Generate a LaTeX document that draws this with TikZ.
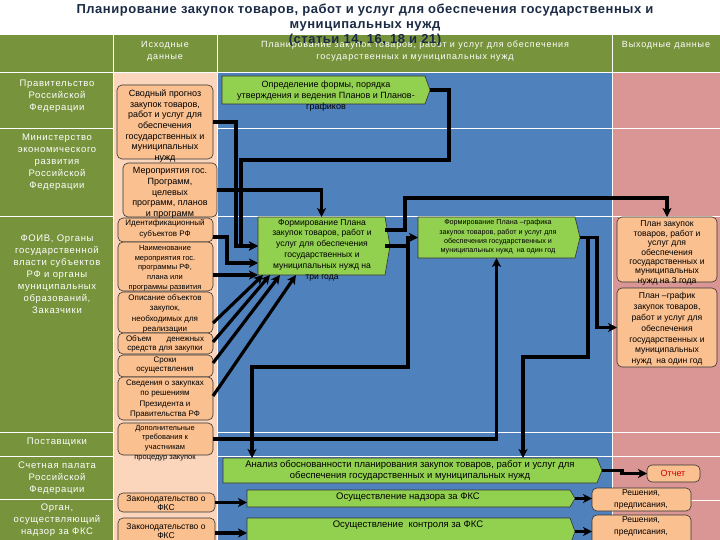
\documentclass[tikz,border=0pt]{standalone}
\usepackage{fontspec}
\setmainfont{Liberation Sans}
\newfontfamily\leftf[LetterSpace=7]{Liberation Sans}
\newfontfamily\headf[LetterSpace=9]{Liberation Sans}
\newfontfamily\titlef[LetterSpace=4]{Liberation Sans}
\usetikzlibrary{arrows.meta}
\definecolor{colOlive}{HTML}{77933C}
\definecolor{colPeachBg}{HTML}{FBD5BC}
\definecolor{colBlue}{HTML}{4F81BD}
\definecolor{colPink}{HTML}{D99694}
\definecolor{boxPeach}{HTML}{FAC090}
\definecolor{boxGreen}{HTML}{92D050}
\definecolor{colTitle}{HTML}{1C2B45}
\definecolor{colRed}{HTML}{D00000}
\begin{document}
\begin{tikzpicture}[x=1pt,y=-1pt,
  every node/.style={inner sep=0pt, outer sep=0pt},
  pbox/.style={draw=black!80, line width=0.6pt, fill=boxPeach, rounded corners=5pt, anchor=north west},
  gbody/.style={anchor=north west, draw=none},
  gshape/.style={draw=black!80, line width=0.6pt, fill=boxGreen},
  btext/.style={align=center, text=black},
  lefttext/.style={align=center, text=white, font=\leftf\fontsize{9.5}{12}\selectfont},
  headtext/.style={align=center, text=white, font=\headf\fontsize{9}{12}\selectfont},
  conn/.style={line width=3.2pt, draw=black},
  arr/.style={conn, -{Stealth[length=9pt,width=9pt,inset=2.5pt]}},
  gridl/.style={draw=white, line width=0.9pt}
]
\useasboundingbox (0,0) rectangle (720,540);
\clip (0,0) rectangle (720,540);
% backgrounds
\fill[white] (0,0) rectangle (720,540);
\fill[colOlive] (0,35) rectangle (720,72);
\fill[colOlive] (0,73) rectangle (113,540);
\fill[colPeachBg] (113,73) rectangle (217,540);
\fill[colBlue] (217,73) rectangle (612,540);
\fill[colPink] (612,73) rectangle (720,540);
\draw[gridl] (0,72.5) -- (720,72.5);
\draw[gridl] (113,35) -- (113,540);
\draw[gridl] (217,35) -- (217,540);
\draw[gridl] (612,35) -- (612,540);
\foreach \yy in {128,216,432,456} {
  \draw[gridl] (0,\yy) -- (113,\yy);
  \draw[gridl] (217,\yy) -- (720,\yy);
}
\draw[gridl] (0,499) -- (113,499);
\draw[gridl] (612,500) -- (720,500);

% header texts
\node[headtext] (H1) at (165,51) {Исходные\\данные};
\node[headtext] (H2) at (415,51) {Планирование закупок товаров, работ и услуг для обеспечения\\государственных и муниципальных нужд};
\node[headtext] (H3) at (666,45) {Выходные данные};

% title
\node[font=\titlef\bfseries\fontsize{13}{15}\selectfont, text=colTitle, align=center] (T) at (365,25)
  {Планирование закупок товаров, работ и услуг для обеспечения государственных и\\муниципальных нужд\\(статьи 14, 16, 18 и 21)};

% left column
\node[lefttext] (L1) at (57,96) {Правительство\\Российской\\Федерации};
\node[lefttext] (L2) at (57,162) {Министерство\\экономического\\развития\\Российской\\Федерации};
\node[lefttext] (L3) at (57,274) {ФОИВ, Органы\\государственной\\власти субъектов\\РФ и органы\\муниципальных\\образований,\\Заказчики};
\node[lefttext] (L4) at (57,442) {Поставщики};
\node[lefttext] (L5) at (57,478) {Счетная палата\\Российской\\Федерации};
\node[lefttext] (L6) at (57,520) {Орган,\\осуществляющий\\надзор за ФКС};

% peach boxes (inputs)
\node[pbox, minimum width=96, minimum height=74] (S) at (117,85) {};
\node[pbox, minimum width=94, minimum height=54] (M) at (123,163) {};
\node[pbox, minimum width=95, minimum height=24] (I) at (118,218) {};
\node[pbox, minimum width=95, minimum height=49] (N) at (118,242) {};
\node[pbox, minimum width=95, minimum height=41] (O) at (118,292) {};
\node[pbox, minimum width=95, minimum height=21] (V) at (118,333) {};
\node[pbox, minimum width=95, minimum height=22] (R) at (118,355) {};
\node[pbox, minimum width=95, minimum height=43] (SV) at (118,377) {};
\node[pbox, minimum width=95, minimum height=32] (DT) at (118,423) {};
\node[pbox, minimum width=97, minimum height=19] (Z1) at (118,493) {};
\node[pbox, minimum width=97, minimum height=30] (Z2) at (118,518) {};
% outputs
\node[pbox, minimum width=100, minimum height=65] (P3) at (617,217) {};
\node[pbox, minimum width=100, minimum height=79] (P1) at (617,288) {};
\node[pbox, minimum width=53, minimum height=17] (Rep) at (647,465) {};
\node[pbox, minimum width=99, minimum height=23] (R1) at (592,488) {};
\node[pbox, minimum width=99, minimum height=33] (R2) at (592,515) {};

% green process bodies
\node[gbody, minimum width=203, minimum height=28] (A) at (222,76) {};
\node[gbody, minimum width=127, minimum height=58] (B) at (258,217) {};
\node[gbody, minimum width=157, minimum height=41] (C) at (418,217) {};
\node[gbody, minimum width=374, minimum height=25] (Dn) at (223,458) {};
\node[gbody, minimum width=323, minimum height=17] (E) at (247,490) {};
\node[gbody, minimum width=323, minimum height=27] (F) at (247,518) {};
\foreach \g in {A,B,C,Dn,E,F} {
  \filldraw[gshape] (\g.north west) -- (\g.north east) -- ([xshift=5pt]\g.east) -- (\g.south east) -- (\g.south west) -- cycle;
}

% texts of input boxes
\node[btext, font=\fontsize{9}{10.7}\selectfont] (St) at (165,126) {Сводный прогноз\\закупок товаров,\\работ и услуг для\\обеспечения\\государственных и\\муниципальных\\нужд};
\node[btext, font=\fontsize{9}{10.7}\selectfont] (Mt) at (170,193) {Мероприятия гос.\\Программ,\\целевых\\программ, планов\\и программ};
\node[btext, font=\fontsize{8}{11.5}\selectfont] (It) at (165,229) {Идентификационный\\субъектов РФ};
\node[btext, font=\fontsize{7.5}{9.8}\selectfont] (Nt) at (165,268) {Наименование\\мероприятия гос.\\программы РФ,\\плана или\\программы развития};
\node[btext, font=\fontsize{8}{10.3}\selectfont] (Opt) at (165,314) {Описание объектов\\закупок,\\необходимых для\\реализации};
\node[btext, font=\fontsize{8}{8.8}\selectfont] (Vt) at (165,344) {\makebox[78pt][s]{Объем денежных}\\средств для закупки};
\node[btext, font=\fontsize{8}{9.2}\selectfont] (Rt) at (165,365) {Сроки\\осуществления};
\node[btext, font=\fontsize{8}{10.6}\selectfont] (SVt) at (165,399) {Сведения о закупках\\по решениям\\Президента и\\Правительства РФ};
\node[btext, font=\fontsize{7.5}{9.8}\selectfont] (DTt) at (165,443) {Дополнительные\\требования к\\участникам\\процедур закупок};
\node[btext, font=\fontsize{8.5}{9.5}\selectfont] (Z1t) at (166,503) {Законодательство о\\ФКС};
\node[btext, font=\fontsize{8.5}{9.5}\selectfont] (Z2t) at (166,531) {Законодательство о\\ФКС};

% texts of output boxes
\node[btext, font=\fontsize{8.6}{9.4}\selectfont] (P3t) at (667,253) {План закупок\\товаров, работ и\\услуг для\\обеспечения\\государственных и\\муниципальных\\нужд на 3 года};
\node[btext, font=\fontsize{8.6}{10.8}\selectfont] (P1t) at (667,329) {План –график\\закупок товаров,\\работ и услуг для\\обеспечения\\государственных и\\муниципальных\\нужд \ на один год};
\node[btext, text=colRed, font=\fontsize{9}{11}\selectfont] (Rept) at (673,473) {Отчет};
\node[btext, font=\fontsize{8.5}{12}\selectfont] (R1t) at (641,499) {Решения,\\предписания,};
\node[btext, font=\fontsize{8.5}{12}\selectfont] (R2t) at (641,526) {Решения,\\предписания,};

% texts of processes
\node[btext, font=\fontsize{9}{11}\selectfont] (At) at (326,96) {Определение формы, порядка\\утверждения и ведения Планов и Планов-\\графиков};
\node[btext, font=\fontsize{8.6}{10.8}\selectfont] (Bt) at (322,250) {Формирование Плана\\закупок товаров, работ и\\услуг для обеспечения\\государственных и\\муниципальных нужд на\\три года};
\node[btext, font=\fontsize{7.2}{9.4}\selectfont] (Ct) at (498,237) {Формирование Плана –графика\\закупок товаров, работ и услуг для\\обеспечения государственных и\\муниципальных нужд \ на один год};
\node[btext, font=\fontsize{9.5}{11}\selectfont] (Dt) at (410,470.5) {Анализ обоснованности планирования закупок товаров, работ и услуг для\\обеспечения государственных и муниципальных нужд};
\node[btext, font=\fontsize{9.5}{11}\selectfont] (Et) at (408,497) {Осуществление надзора за ФКС};
\node[btext, font=\fontsize{9.5}{11}\selectfont] (Ft) at (408,525) {Осуществление \ контроля за ФКС};

% connectors
\coordinate (Atip) at ([xshift=5pt]A.east);
\draw[arr] (S.east) -- ++(23,0) |- (B.west);
\draw[arr] (Atip) -- ++(19,0) -- ++(0,70) -- (241,160) |- (B.west);
\draw[arr] (M.east) -| (B.north);
\draw[arr] ([yshift=-7pt]I.east) -- ++(14,0) |- ([yshift=-17pt]B.west);
\draw[arr] ([yshift=-8.5pt]N.east) -- (B.south west);
\draw[arr] ([yshift=-10.5pt]O.east) -- ([xshift=5pt]B.south west);
\draw[arr] ([yshift=1.5pt]V.east) -- ([xshift=12pt]B.south west);
\draw[arr] ([yshift=3pt]R.east) -- ([xshift=22pt]B.south west);
\draw[arr] ([yshift=2.5pt]SV.east) -- ([xshift=38pt]B.south west);
\draw[arr] (DT.east) -| (C.south);
\draw[arr] ([yshift=16pt]B.east) -- ++(20,0) -- ++(0,-32) -| (P3.north);
\draw[arr] (B.east) -- ++(23,0) |- (C.west);
\draw[arr] (B.east) -- ++(23,0) -- ++(0,121) -| ([xshift=29pt]Dn.north west);
\draw[arr] ([xshift=5pt]C.east) -- ++(17,0) |- (P1.west);
\draw[arr] ([xshift=5pt]C.east) -- ++(8,0) -- ++(0,119.5) -| ([xshift=300pt]Dn.north west);
\draw[arr] ([xshift=5pt]Dn.east) -- ++(20,0) |- (Rep.west);
\draw[arr] ([xshift=5pt]E.east) -- (R1.west |- E.east);
\draw[arr] ([xshift=5pt]F.east) -- (R2.west |- F.east);
\draw[arr] (Z1.east) -- (E.west |- Z1.east);
\draw[arr] (Z2.east) -- (F.west |- Z2.east);
\end{tikzpicture}
\end{document}
